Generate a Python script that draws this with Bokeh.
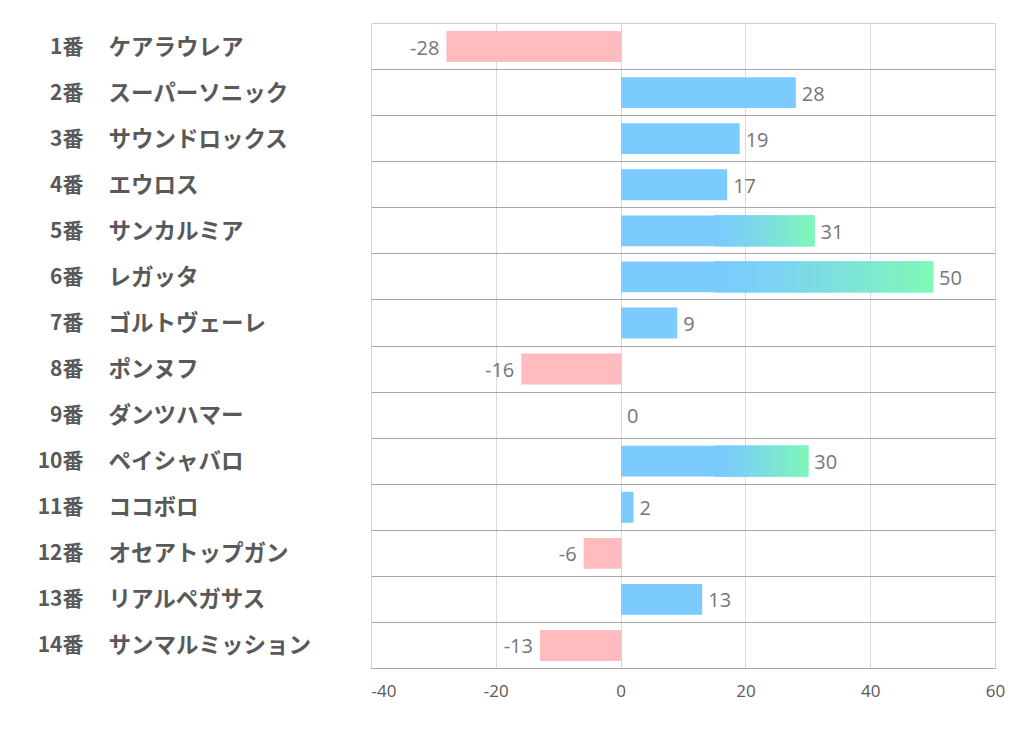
from bokeh.plotting import figure
from bokeh.layouts import row
from bokeh.models import ColumnDataSource, LabelSet, FixedTicker, Range1d
from bokeh.core.properties import value
from bokeh.embed import file_html
from bokeh.resources import INLINE

numbers = ["1番", "2番", "3番", "4番", "5番", "6番", "7番", "8番", "9番", "10番", "11番", "12番", "13番", "14番"]
names = ["ケアラウレア", "スーパーソニック", "サウンドロックス", "エウロス", "サンカルミア", "レガッタ",
         "ゴルトヴェーレ", "ポンヌフ", "ダンツハマー", "ペイシャバロ", "ココボロ", "オセアトップガン",
         "リアルペガサス", "サンマルミッション"]
values = [-28, 28, 19, 17, 31, 50, 9, -16, 0, 30, 2, -6, 13, -13]
x_ticks = [-40, -20, 0, 20, 40, 60]
tick_labels = ["-40", "-20", "0", "20", "40", "60"]

X0, X1 = -40, 60
LW = 371           # width of label panel
W, H = 1014 - LW, 722
BR, BT, BB = W - (995 - LW), 23, 722 - 668

n = len(values)
ys = list(range(1, n + 1))

# ---- label panel ----
lp = figure(width=LW, height=H, output_backend="svg", toolbar_location=None,
            x_range=Range1d(0, LW), y_range=Range1d(n + 0.5, 0.5),
            min_border_left=0, min_border_right=0, min_border_top=BT, min_border_bottom=BB)
lp.axis.visible = False
lp.grid.visible = False
lp.outline_line_color = None
cat_font = value("Noto Sans CJK JP")
lp.text(x=[83] * n, y=ys, text=numbers, text_align="right", text_baseline="middle", y_offset=-2,
        text_font=cat_font, text_font_size="21px", text_font_style="bold", text_color="#595959")
lp.text(x=[108] * n, y=ys, text=names, text_align="left", text_baseline="middle", y_offset=-2,
        text_font=cat_font, text_font_size="22.5px", text_font_style="bold", text_color="#595959")

# ---- chart ----
p = figure(width=W, height=H, output_backend="svg", toolbar_location=None,
           x_range=Range1d(X0, X1), y_range=Range1d(n + 0.5, 0.5),
           min_border_left=0, min_border_right=BR, min_border_top=BT, min_border_bottom=BB)
p.outline_line_color = "#D0D0D0"

BLUE = (0x7B, 0xCB, 0xFF)
GREEN = (0x80, 0xFA, 0xB4)
PINK = "#FFBBBD"

def hexc(c):
    return "#%02X%02X%02X" % tuple(int(round(v)) for v in c)

colors = [hexc(BLUE) if v >= 0 else PINK for v in values]
src = ColumnDataSource(dict(y=ys, right=values, left=[0] * n, color=colors))
p.hbar(y="y", left="left", right="right", height=0.67, fill_color="color", line_color=None, source=src)

# gradient overlay for long bars
gl, gr, gy, gc = [], [], [], []
G_START = 15
STEPS = 60
for y, v in zip(ys, values):
    if v >= 30:
        for k in range(STEPS):
            a = G_START + (v - G_START) * k / STEPS
            b = G_START + (v - G_START) * (k + 1) / STEPS
            t = ((k + 0.5) / STEPS) ** 1.3
            c = tuple(BLUE[i] + (GREEN[i] - BLUE[i]) * t for i in range(3))
            gl.append(a); gr.append(b); gy.append(y); gc.append(hexc(c))
p.hbar(y=gy, left=gl, right=gr, height=0.67, fill_color=gc, line_color=gc, line_width=0.5)

# value labels
pos_x = [v for v in values if v >= 0]
pos_y = [y for y, v in zip(ys, values) if v >= 0]
neg_x = [v for v in values if v < 0]
neg_y = [y for y, v in zip(ys, values) if v < 0]
lbl_font = value("Open Sans")
p.add_layout(LabelSet(source=ColumnDataSource(dict(x=pos_x, y=pos_y, t=[str(v) for v in pos_x])),
                      x="x", y="y", text="t", x_offset=6, y_offset=-1, text_align="left", text_baseline="middle",
                      text_font=lbl_font, text_font_size="20px", text_color="#767676"))
p.add_layout(LabelSet(source=ColumnDataSource(dict(x=neg_x, y=neg_y, t=[str(v) for v in neg_x])),
                      x="x", y="y", text="t", x_offset=-7, y_offset=-1, text_align="right", text_baseline="middle",
                      text_font=lbl_font, text_font_size="20px", text_color="#767676"))

# axes & grid
p.xaxis.ticker = FixedTicker(ticks=x_ticks)
p.xaxis.major_label_overrides = {t: s for t, s in zip(x_ticks, tick_labels)}
p.xaxis.major_tick_line_color = None
p.xaxis.minor_tick_line_color = None
p.xaxis.axis_line_color = "#A6A6A6"
p.xaxis.major_label_text_color = "#595959"
p.xaxis.major_label_text_font = "Open Sans"
p.xaxis.major_label_text_font_size = "17px"
p.xaxis.major_label_standoff = 10
p.xgrid.ticker = FixedTicker(ticks=x_ticks)
p.xgrid.grid_line_color = "#D9D9D9"

p.yaxis.visible = False
p.ygrid.ticker = FixedTicker(ticks=[y + 0.5 for y in range(0, n + 1)])
p.ygrid.grid_line_color = "#A6A6A6"

layout = row(lp, p, spacing=0)
open("out.html", "w").write(file_html(layout, INLINE))
